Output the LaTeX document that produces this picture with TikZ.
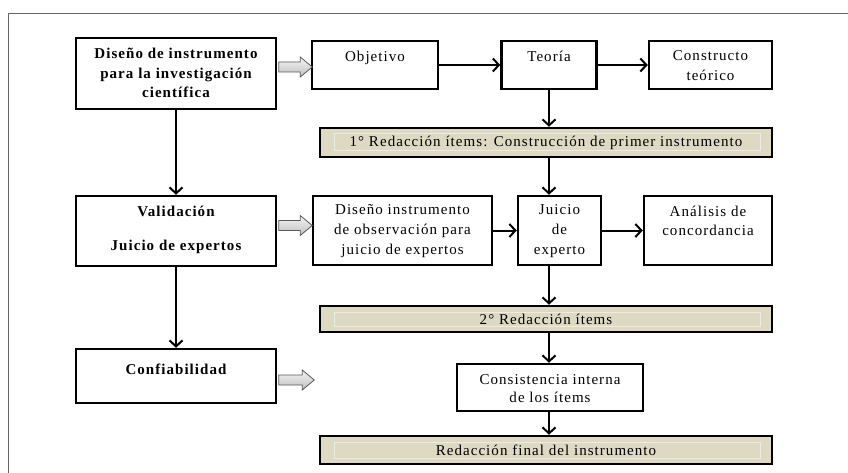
\documentclass[tikz,border=0pt]{standalone}
\usepackage{fontspec}
\setmainfont{Liberation Serif}[LetterSpace=7]
\usetikzlibrary{arrows.meta,calc,shadows}
\definecolor{banner}{HTML}{DDD9C3}
\definecolor{bannerin}{HTML}{EEECE1}
\newcommand\bt[4]{\parbox[c][#1pt][t]{#2pt}{\centering\rule{0pt}{#3pt}#4}}
\begin{document}
\begin{tikzpicture}[x=1pt,y=-1pt,
  every node/.style={font=\fontsize{15pt}{19.5pt}\selectfont},
  shad/.style={drop shadow={shadow xshift=1.2pt, shadow yshift=-1.2pt, fill=gray!45, opacity=0.6}},
  box/.style={draw=black, line width=2.5pt, fill=white, inner sep=0pt, shad},
  bold/.style={font=\fontsize{15pt}{19.5pt}\selectfont\bfseries},
  bar/.style={draw=black, line width=2.5pt, fill=banner, minimum width=452pt, inner sep=0pt, shad,
    path picture={\draw[bannerin, line width=1pt]
      ($(path picture bounding box.north west)+(14,6)$) rectangle
      ($(path picture bounding box.south east)+(-12,-6)$);}},
  arr/.style={line width=2pt, -{Straight Barb[length=6pt,width=13pt,line width=2pt]}},
  barrow/.style={draw=gray!70!black, line width=0.8pt, top color=gray!8, bottom color=gray!50},
  frame/.style={draw=gray!80!black, line width=1pt}]
\useasboundingbox (0,0) rectangle (848,473);
\draw[frame] (8,473) -- (8,13.5) -- (848,13.5);

\node[box,bold] (A) at (176,73.5) {\bt{71}{200}{21}{Diseño de instrumento\\para la investigación\\científica}};
\node[box] (Obj) at (375,65) {\bt{48}{126}{21}{Objetivo}};
\node[box] (Teo) at (549,65) {\bt{48}{95}{21}{Teoría}};
\node[box] (Con) at (710.5,65) {\bt{48}{123}{20}{Constructo\\teórico}};
\node[bar, minimum height=29pt] (B1) at (546,142.5) {1° Redacción ítems: Construcción de primer instrumento};
\node[box,bold] (Val) at (176,231) {\bt{70}{200}{20}{Validación\\[15pt]Juicio de expertos}};
\node[box] (Dis) at (402.5,230.5) {\bt{69}{179}{19}{Diseño instrumento\\de observación para\\juicio de expertos}};
\node[box] (Jui) at (559.5,230.5) {\bt{69}{83}{19}{Juicio\\de\\experto}};
\node[box] (Ana) at (708,230.5) {\bt{69}{128}{20}{Análisis de\\concordancia}};
\node[bar, minimum height=26pt] (B2) at (546,319) {2° Redacción ítems};
\node[box,bold] (Conf) at (176,376) {\bt{54}{200}{25}{Confiabilidad}};
\node[box] (Cons) at (550,387.5) {\bt{47}{186}{20}{Consistencia interna\\[-1pt]de los ítems}};
\node[bar, minimum height=28pt] (B3) at (546,450) {Redacción final del instrumento};

% block arrows
\draw[barrow] (A.east |- Obj.west) ++(1.5,-3) -- ++(21.5,0) -- ++(0,-5) -- ++(12,10) -- ++(-12,10) -- ++(0,-5) -- ++(-21.5,0) -- cycle;
\draw[barrow] (Val.east) ++(1.5,-10.5) -- ++(21.5,0) -- ++(0,-5) -- ++(12,10) -- ++(-12,10) -- ++(0,-5) -- ++(-21.5,0) -- cycle;
\draw[barrow] (Conf.east) ++(1.5,-1) -- ++(23.5,0) -- ++(0,-5) -- ++(12,10) -- ++(-12,10) -- ++(0,-5) -- ++(-23.5,0) -- cycle;

% connectors
\draw[arr] (A) -- (Val);
\draw[arr] (Val) -- (Conf);
\draw[arr] (Obj) -- (Teo);
\draw[arr] (Teo) -- (Con);
\draw[arr] (Teo.south) -- (Teo.south |- B1.north);
\draw[arr] (B1.south -| Teo.south) -- (Jui.north -| Teo.south);
\draw[arr] (Dis) -- (Jui);
\draw[arr] (Jui) -- (Ana);
\draw[arr] (Jui.south -| Teo.south) -- (B2.north -| Teo.south);
\draw[arr] (B2.south -| Teo.south) -- (Cons.north -| Teo.south);
\draw[arr] (Cons.south -| Teo.south) -- (B3.north -| Teo.south);
\end{tikzpicture}
\end{document}
